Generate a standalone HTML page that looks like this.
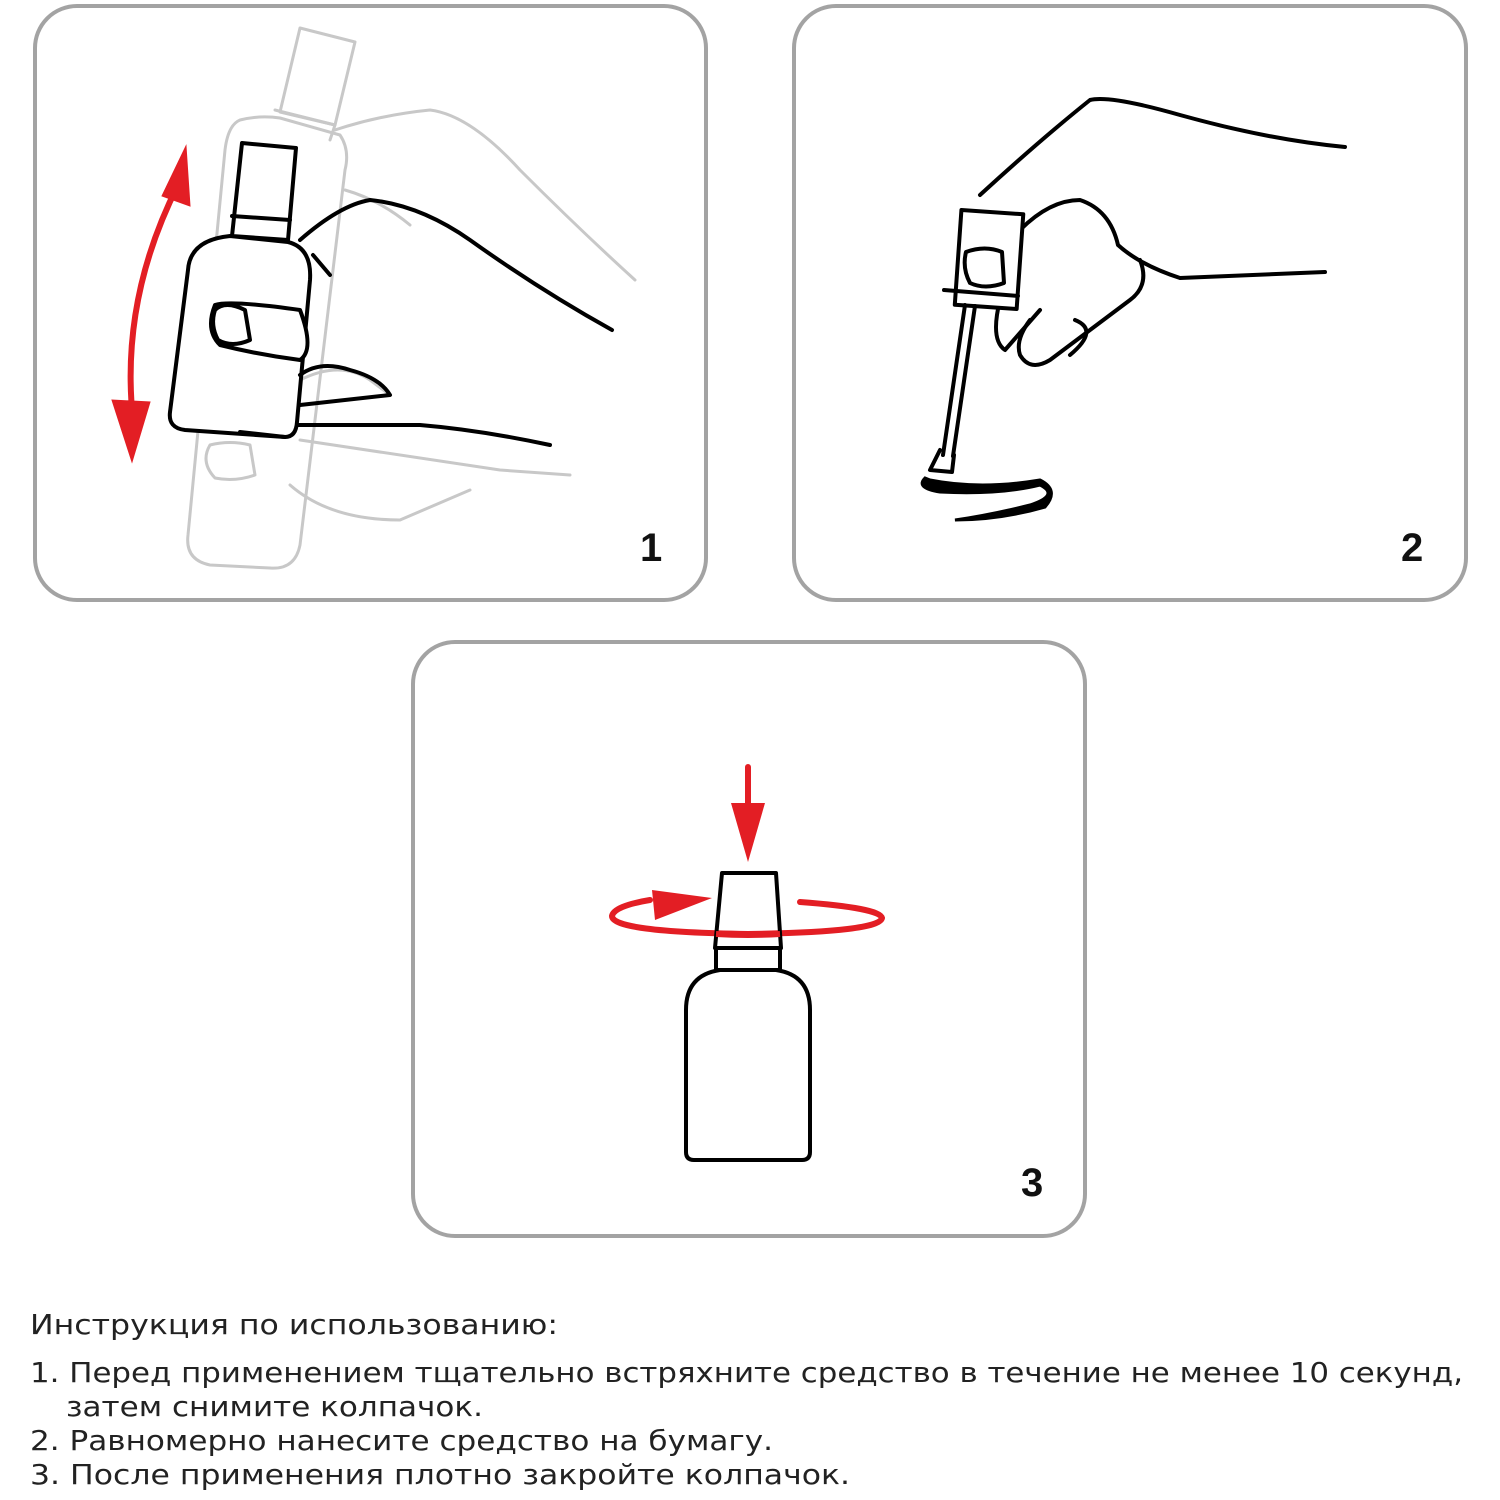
<!DOCTYPE html>
<html><head><meta charset="utf-8"><style>
html,body{margin:0;padding:0;background:#fff}
svg{display:block}
</style></head><body>
<svg width="1500" height="1500" viewBox="0 0 1500 1500" xmlns="http://www.w3.org/2000/svg">
<g fill="none" stroke="#a3a3a3" stroke-width="4">
<rect x="35" y="6" width="671" height="594" rx="42"/>
<rect x="794" y="6" width="672" height="594" rx="42"/>
<rect x="413" y="642" width="672" height="594" rx="42"/>
</g>
<!-- Panel 1 -->
<g fill="none" stroke="#c8c8c8" stroke-width="3" stroke-linejoin="round" stroke-linecap="round">
<path d="M300 28 L355 42 L335 125 L280 112 Z"/>
<path d="M275 110 L335 125 L330 140"/>
<path d="M240 120 Q260 115 280 118 L340 135 Q350 150 345 170 L300 545 Q295 570 270 568 L210 565 Q185 560 188 535 L225 150 Q228 125 240 120Z"/>
<path d="M335 130 Q380 115 430 110 Q470 115 520 170 Q580 230 635 280"/>
<path d="M345 190 Q380 200 410 225"/>
<path d="M300 380 Q340 360 370 380 L390 395"/>
<path d="M300 440 Q400 455 500 470 L570 475"/>
<path d="M210 445 Q230 440 250 445 L255 475 Q235 482 215 478 Q200 462 210 445Z"/>
<path d="M290 485 Q330 520 400 520 L470 490"/>
</g>
<g fill="#fff" stroke="#000" stroke-width="4" stroke-linejoin="round" stroke-linecap="round">
<path d="M242 143 L296 148 L288 240 L232 236 Z"/>
<path d="M232 216 L290 220"/>
<path d="M230 236 Q190 240 188 270 L170 412 Q168 428 185 430 L285 437 Q296 437 297 422 L310 280 Q312 248 288 242 Z"/>
<path d="M300 240 Q340 205 370 200 Q420 205 470 240 Q540 290 612 330" fill="none"/>
<path d="M215 305 Q230 300 300 310 Q315 350 300 360 Q260 355 220 345 Q205 330 215 305Z"/>
<path d="M215 310 Q225 300 245 310 L250 340 Q232 348 218 340 Q210 325 215 310Z"/>
<path d="M300 375 Q320 360 350 370 Q380 378 390 395 L300 405" fill="none"/>
<path d="M298 425 Q350 425 420 425 Q480 430 550 445" fill="none"/>
<path d="M240 432 L285 437" fill="none"/>
<path d="M313 255 L330 275" fill="none"/>
</g>
<g stroke="#e31e24" fill="#e31e24">
<path d="M178 185 Q120 300 133 420" fill="none" stroke-width="6"/>
<polygon points="186,146 162,196 190,206"/>
<polygon points="132,462 112,400 150,402"/>
</g>
<!-- Panel 2 -->
<g fill="none" stroke="#000" stroke-width="4" stroke-linejoin="round" stroke-linecap="round">
<path d="M980 195 Q1040 140 1090 100 Q1110 95 1180 115 Q1270 140 1345 147"/>
<path d="M1020 230 Q1050 200 1080 200 Q1110 210 1118 245 Q1140 265 1180 278 Q1250 275 1325 272"/>
<path d="M1140 260 Q1150 285 1130 300 L1050 360 Q1030 372 1020 355 Q1015 340 1030 320"/>
<path d="M1075 320 Q1100 330 1070 355"/>
<path d="M1000 300 Q990 340 1005 350 L1040 310"/>
<path d="M966 252 Q985 245 1000 252 L1003 285 Q985 290 970 282 Q962 268 966 252Z"/>
<rect x="958" y="212" width="62" height="95" transform="rotate(4 989 260)" fill="#fff"/>
<path d="M944 290 L1018 296"/>
<path d="M966 252 Q985 245 1002 252 L1004 283 Q985 290 970 283 Q962 268 966 252Z" fill="#fff"/>
<path d="M965 305 L943 455 M975 306 L953 456"/>
<path d="M940 450 L930 470 L952 472 L954 455"/>
</g>
<path d="M925 478 Q915 488 940 492 Q1000 495 1040 485 Q1060 495 1030 505 Q990 515 955 520 Q1000 520 1045 507 Q1060 490 1040 480 Q980 490 930 480Z" fill="#000" stroke="#000" stroke-width="3"/>
<!-- Panel 3 -->
<g fill="none" stroke="#e31e24" stroke-width="6" stroke-linecap="round">
<path d="M800 902 Q880 908 882 918 Q880 932 748 934 Q612 932 612 916 Q614 906 650 900"/>
<line x1="748" y1="767" x2="748" y2="805"/>
</g>
<g fill="#e31e24">
<polygon points="731,803 765,803 748,862"/>
<polygon points="652,890 712,898 655,920"/>
</g>
<g fill="#fff" stroke="#000" stroke-width="4" stroke-linejoin="round">
<path d="M722 873 L776 873 L781 948 L715 948 Z" fill="none"/>
<rect x="716" y="948" width="64" height="22"/>
<path d="M720 970 L776 970 Q810 975 810 1010 L810 1152 Q810 1160 802 1160 L694 1160 Q686 1160 686 1152 L686 1010 Q686 975 720 970Z"/>
</g>
<path d="M716 934 Q748 936 780 934" fill="none" stroke="#e31e24" stroke-width="6"/>
<g font-family="'Liberation Sans', sans-serif" font-weight="bold" font-size="40" fill="#111">
<text x="640" y="561">1</text>
<text x="1401" y="561">2</text>
<text x="1021" y="1196">3</text>
</g>
<g font-family="'DejaVu Sans', 'Liberation Sans', sans-serif" font-size="28" fill="#222">
<text x="30" y="1334" textLength="528" lengthAdjust="spacingAndGlyphs">Инструкция по использованию:</text>
<text x="30" y="1382" textLength="1433" lengthAdjust="spacingAndGlyphs">1. Перед применением тщательно встряхните средство в течение не менее 10 секунд,</text>
<text x="66" y="1416" textLength="417" lengthAdjust="spacingAndGlyphs">затем снимите колпачок.</text>
<text x="30" y="1450" textLength="743" lengthAdjust="spacingAndGlyphs">2. Равномерно нанесите средство на бумагу.</text>
<text x="30" y="1484" textLength="820" lengthAdjust="spacingAndGlyphs">3. После применения плотно закройте колпачок.</text>
</g>
</svg>
</body></html>
